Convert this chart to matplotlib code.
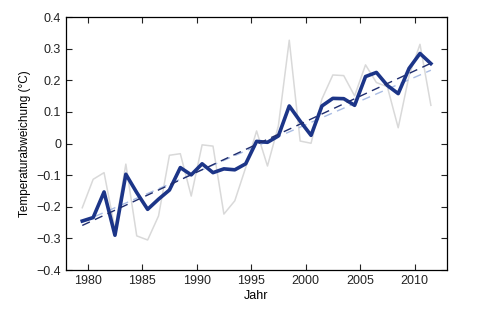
import matplotlib
matplotlib.use("Agg")
import matplotlib.pyplot as plt

# years (plotted at mid-year)
years = [1979.5 + i for i in range(33)]

annual = [-0.203, -0.113, -0.092, -0.27, -0.065, -0.292, -0.305, -0.229,
          -0.037, -0.032, -0.166, -0.004, -0.008, -0.223, -0.181, -0.076,
          0.040, -0.071, 0.056, 0.327, 0.008, 0.001, 0.141, 0.217,
          0.215, 0.151, 0.249, 0.193, 0.180, 0.050, 0.215, 0.314, 0.121]

smoothed = [-0.245, -0.234, -0.153, -0.290, -0.097, -0.155, -0.208, -0.176,
            -0.147, -0.076, -0.099, -0.064, -0.092, -0.080, -0.083, -0.064,
            0.007, 0.004, 0.024, 0.119, 0.071, 0.026, 0.119, 0.143,
            0.142, 0.121, 0.212, 0.225, 0.184, 0.158, 0.238, 0.285, 0.253]

trend_x = [1979.5, 2011.5]
trend_dark = [-0.259, 0.254]
trend_light = [-0.248, 0.232]

xticks = [1980, 1985, 1990, 1995, 2000, 2005, 2010]
yticks = [-0.4, -0.3, -0.2, -0.1, 0, 0.1, 0.2, 0.3, 0.4]
ylabels = ["\u22120.4", "\u22120.3", "\u22120.2", "\u22120.1", "0", "0.1", "0.2", "0.3", "0.4"]

plt.rcParams['font.family'] = ['Liberation Sans', 'DejaVu Sans']
plt.rcParams['font.size'] = 9

fig = plt.figure(figsize=(4.92, 3.23), dpi=100)
ax = fig.add_axes([0.134, 0.164, 0.775, 0.783])

ax.plot(years, annual, color='#d9d9d9', lw=1.1)
ax.plot(trend_x, trend_light, color='#a9bce3', lw=1.0, dashes=(6, 4))
ax.plot(years, smoothed, color='#1c3588', lw=2.6)
ax.plot(trend_x, trend_dark, color='#1f2d6e', lw=1.0, dashes=(6, 4))

ax.set_xlim(1978, 2013)
ax.set_ylim(-0.4, 0.4)
ax.set_xticks(xticks)
ax.set_yticks(yticks)
ax.set_yticklabels(ylabels)
ax.tick_params(direction='in', top=True, right=True, length=4, width=0.8,
               labelsize=9, colors='#222222')
for s in ax.spines.values():
    s.set_linewidth(0.9)

ax.set_xlabel("Jahr", fontsize=9, labelpad=2)
ax.set_ylabel("Temperaturabweichung (\u00b0C)", fontsize=8.5, labelpad=4)

fig.savefig("out.png", dpi=100)
